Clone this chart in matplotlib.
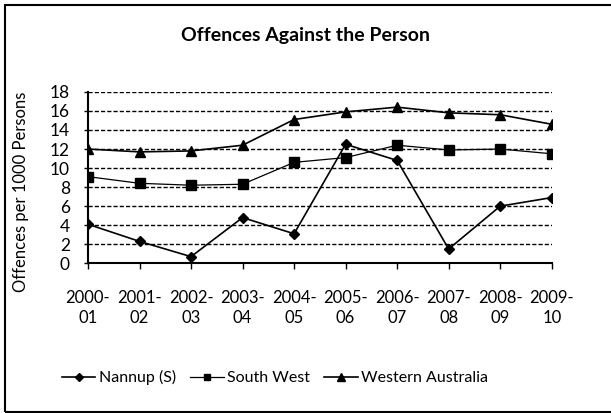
import matplotlib
matplotlib.use('Agg')
import matplotlib.pyplot as plt
from matplotlib.patches import Rectangle

# Data
years = ["2000-\n01", "2001-\n02", "2002-\n03", "2003-\n04", "2004-\n05",
         "2005-\n06", "2006-\n07", "2007-\n08", "2008-\n09", "2009-\n10"]
nannup = [4.1, 2.3, 0.7, 4.8, 3.1, 12.5, 10.8, 1.5, 6.0, 6.9]
south_west = [9.1, 8.4, 8.2, 8.3, 10.6, 11.1, 12.4, 11.9, 12.0, 11.5]
western_australia = [12.0, 11.7, 11.8, 12.4, 15.1, 15.9, 16.4, 15.8, 15.6, 14.6]
y_ticks = list(range(0, 19, 2))

plt.rcParams['font.family'] = ['Lato', 'DejaVu Sans']

fig = plt.figure(figsize=(6.11, 4.13), dpi=100)
ax = fig.add_axes([0.144, 0.3625, 0.759, 0.415])

x = range(len(years))
ax.plot(x, nannup, color='black', lw=1.2, marker='D', ms=5.5, label='Nannup (S)')
ax.plot(x, south_west, color='black', lw=0.9, marker='s', ms=6.5, label='South West')
ax.plot(x, western_australia, color='black', lw=1.2, marker='^', ms=7, label='Western Australia')

ax.set_xlim(0, len(years) - 1)
ax.set_ylim(0, 18)
ax.set_yticks(y_ticks)
ax.set_xticks(list(x))
ax.set_xticklabels(years, fontsize=12, linespacing=1.35)
ax.tick_params(axis='y', labelsize=12.5, length=3, width=1, pad=10)
ax.tick_params(axis='x', length=4, width=1, pad=15)
ax.yaxis.grid(True, linestyle=(0, (3, 1.5)), color='black', lw=1)
ax.set_axisbelow(True)
for side in ['top', 'right']:
    ax.spines[side].set_visible(False)
ax.spines['left'].set_linewidth(1.5)
ax.spines['bottom'].set_linewidth(1.5)

ax.set_ylabel("Offences per 1000 Persons", fontsize=12)
ax.yaxis.set_label_coords(-0.128, 0.416)
fig.text(0.5, 0.915, "Offences Against the Person", ha='center', va='center',
         fontsize=14, fontweight='bold')

fig.legend(loc='center', bbox_to_anchor=(0.45, 0.085), ncol=3, frameon=False,
           fontsize=11.5, handlelength=2.1, columnspacing=0.9, handletextpad=0.2,
           markerscale=0.75)

# outer border as in the source figure
fig.patches.append(Rectangle((5 / 611, 1 / 413), 1.2, 407 / 413,
                             transform=fig.transFigure, fill=False,
                             edgecolor='black', lw=1.5, clip_on=False))

fig.savefig("out.png", dpi=100)
plt.close(fig)
